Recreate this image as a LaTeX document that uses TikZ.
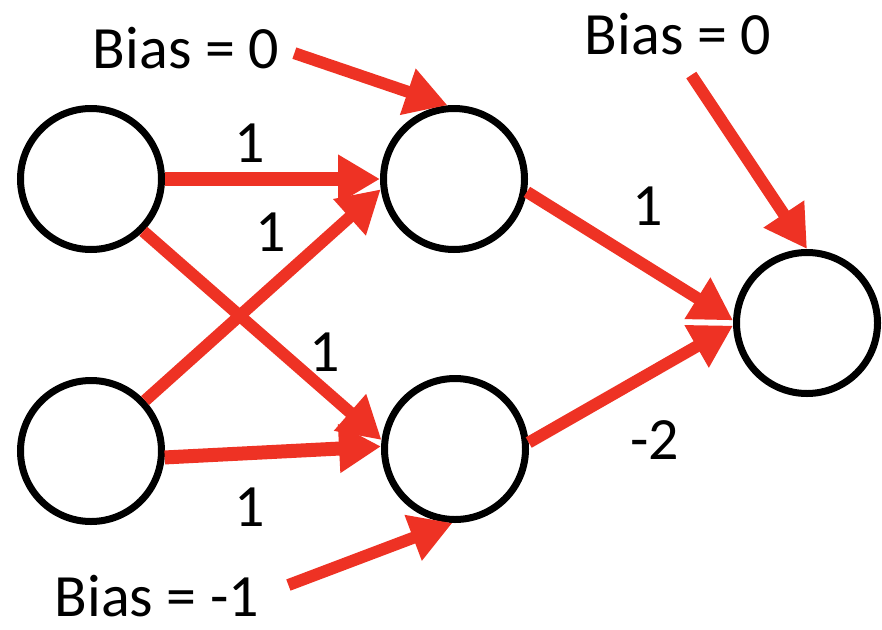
\documentclass[tikz,border=0pt]{standalone}
\usepackage{fontspec}
\setmainfont{Carlito}
\usetikzlibrary{arrows.meta}
\definecolor{arrred}{RGB}{238,50,36}
\begin{document}
\begin{tikzpicture}[x=1pt,y=-1pt,
  neuron/.style={draw,circle,line width=7pt,minimum size=141pt,inner sep=0pt},
  wt/.style={draw=arrred,line width=12pt,-{Triangle[length=42pt,width=46pt]}},
  lbl/.style={font=\fontsize{60}{72}\selectfont,inner sep=0pt}]
\useasboundingbox (0,0) rectangle (882,629);
\node[neuron] (in1) at (91,179) {};
\node[neuron] (in2) at (91,451) {};
\node[neuron] (hid1) at (454,179) {};
\node[neuron] (hid2) at (455,449) {};
\node[neuron] (out) at (807,323) {};
\node[lbl] (b1) at (186,48) {Bias = 0};
\node[lbl] (b2) at (678,34) {Bias = 0};
\node[lbl] (b3) at (157,596) {Bias = -1};
\node[lbl] (w1) at (250,143) {1};
\node[lbl] (w2) at (271,232) {1};
\node[lbl] (w3) at (325,352) {1};
\node[lbl] (w4) at (250,507) {1};
\node[lbl] (w5) at (648,206) {1};
\node[lbl] (w6) at (655,440) {-2};
\draw[wt,line width=14pt] (in1.east) -- (hid1.west);
\draw[wt] (in2.43) -- (hid1.188);
\draw[wt] (in1.-45) -- (hid2.173);
\draw[wt,line width=14pt] (in2.-5) -- (hid2.178);
\draw[wt] (hid1.-10) -- (out.178);
\draw[wt] (hid2.5) -- (out.182);
\draw[wt,shorten <=16pt] (b1.east) -- (hid1.95);
\draw[wt,shorten <=24pt] (b2.south) -- (out.north);
\draw[wt,shorten <=31pt] (b3.east) -- (hid2.-92);
\end{tikzpicture}
\end{document}
